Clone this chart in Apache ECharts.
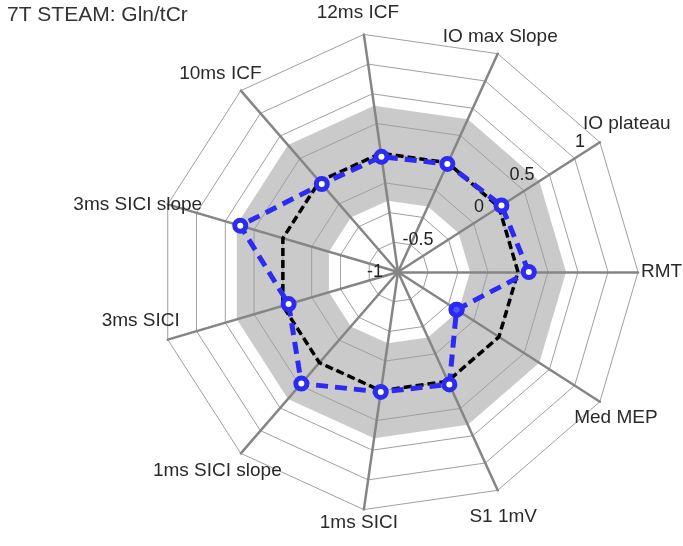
<!DOCTYPE html>
<html>
<head>
<meta charset="utf-8">
<script src="https://cdn.jsdelivr.net/npm/echarts@6/dist/echarts.min.js"></script>
<style>
  html, body { margin: 0; padding: 0; background: #fff; }
  #chart { width: 683px; height: 546px; }
</style>
</head>
<body>
<div id="chart"></div>
<script>
// ---- data ----
var titleText = '7T STEAM: Gln/tCr';
var indicatorNames = ['RMT', 'IO plateau', 'IO max Slope', '12ms ICF', '10ms ICF',
  '3ms SICI slope', '3ms SICI', '1ms SICI slope', '1ms SICI', 'S1 1mV', 'Med MEP'];
var axisMin = -1;
var axisMax = 1;
var tickLabels = [-1, -0.5, 0, 0.5, 1];
var referenceValues = [0, 0, 0, 0, 0, 0, 0, 0, 0, 0, 0];
var bandUpper = [0.4, 0.4, 0.4, 0.4, 0.4, 0.4, 0.4, 0.4, 0.4, 0.4, 0.4];
var bandLower = [-0.4, -0.4, -0.4, -0.4, -0.4, -0.4, -0.4, -0.4, -0.4, -0.4, -0.4];
var subjectValues = [0.09, 0.025, -0.01, -0.03, -0.03, 0.37, -0.05, 0.23, 0.01, 0.03, -0.42];
var highlighted = ['Med MEP'];
var labelledAxis = 'IO plateau';

// ---- layout / style (not data) ----
var BLUE = '#2b2bf2';
var FONT = 'Liberation Sans';
var center = [398, 272];
var radius = 240;
// per-axis name placement: [align, verticalAlign, padding]
var nameLayout = {
  'RMT':            ['left',   'middle', [0, 0, 0, 3]],
  'IO plateau':     ['center', 'bottom', [0, 0, 0, 26]],
  'IO max Slope':   ['center', 'bottom', [0, 0, 7, 5]],
  '12ms ICF':       ['center', 'bottom', [0, 12, 12, 0]],
  '10ms ICF':       ['center', 'bottom', [0, 41, 7, 0]],
  '3ms SICI slope': ['center', 'middle', [0, 60, 10, 0]],
  '3ms SICI':       ['center', 'bottom', [0, 54, 9, 0]],
  '1ms SICI slope': ['center', 'top',    [8, 47, 0, 0]],
  '1ms SICI':       ['center', 'top',    [4, 10, 0, 0]],
  'S1 1mV':         ['center', 'top',    [17, 0, 0, 11]],
  'Med MEP':        ['center', 'top',    [7, 0, 0, 32]]
};

var indicators = indicatorNames.map(function (n) {
  var lay = nameLayout[n];
  var ind = {
    name: n, min: axisMin, max: axisMax,
    nameTextStyle: { align: lay[0], verticalAlign: lay[1], padding: lay[2] }
  };
  if (n === labelledAxis) ind.axisLabel = { show: true };
  return ind;
});

var highlightData = highlighted.map(function (n) {
  return [subjectValues[indicatorNames.indexOf(n)], n];
});

var chart = echarts.init(document.getElementById('chart'), null, { renderer: 'canvas' });
chart.setOption({
  animation: false,
  backgroundColor: '#fff',
  title: {
    text: titleText, left: 2, top: 0,
    textStyle: { fontFamily: FONT, fontSize: 21, fontWeight: 'normal', color: '#333' }
  },
  radar: {
    z: 3,
    center: center,
    radius: radius,
    startAngle: 0,
    shape: 'polygon',
    splitNumber: 8,
    indicator: indicators,
    axisName: { color: '#2a2a2a', fontFamily: FONT, fontSize: 19 },
    axisNameGap: 0,
    axisLine: { lineStyle: { color: '#858585', width: 2.5 } },
    splitLine: { lineStyle: { color: '#a0a0a0', width: 1 } },
    splitArea: { show: false },
    axisLabel: {
      show: false, color: '#222', fontFamily: FONT, fontSize: 18,
      margin: 0, align: 'right', verticalAlign: 'middle', padding: [12, 15, 0, 0],
      formatter: function (v) {
        return tickLabels.some(function (t) { return Math.abs(t - v) < 1e-6; }) ? String(v) : '';
      }
    }
  },
  polar: { center: center, radius: [0, radius] },
  angleAxis: { type: 'category', data: indicatorNames, startAngle: 0, clockwise: false, boundaryGap: false, show: false },
  radiusAxis: { min: axisMin, max: axisMax, show: false },
  series: [
    {
      type: 'radar', z: 1, silent: true, symbol: 'none',
      lineStyle: { width: 0 }, areaStyle: { color: '#cacaca', opacity: 1 },
      data: [{ value: bandUpper }]
    },
    {
      type: 'radar', z: 1.5, silent: true, symbol: 'none',
      lineStyle: { width: 0 }, areaStyle: { color: '#ffffff', opacity: 1 },
      data: [{ value: bandLower }]
    },
    {
      type: 'radar', z: 5, symbol: 'none',
      lineStyle: { color: '#000', width: 3.5, type: [8, 4] },
      data: [{ value: referenceValues }]
    },
    {
      type: 'radar', z: 6, symbol: 'circle', symbolSize: 11,
      lineStyle: { color: BLUE, width: 5, type: [12, 7] },
      itemStyle: { color: '#fff', borderColor: BLUE, borderWidth: 5 },
      data: [{ value: subjectValues }]
    },
    {
      type: 'scatter', coordinateSystem: 'polar', z: 7,
      symbol: 'circle', symbolSize: 16,
      itemStyle: { color: BLUE },
      data: highlightData
    }
  ]
});
</script>
</body>
</html>
